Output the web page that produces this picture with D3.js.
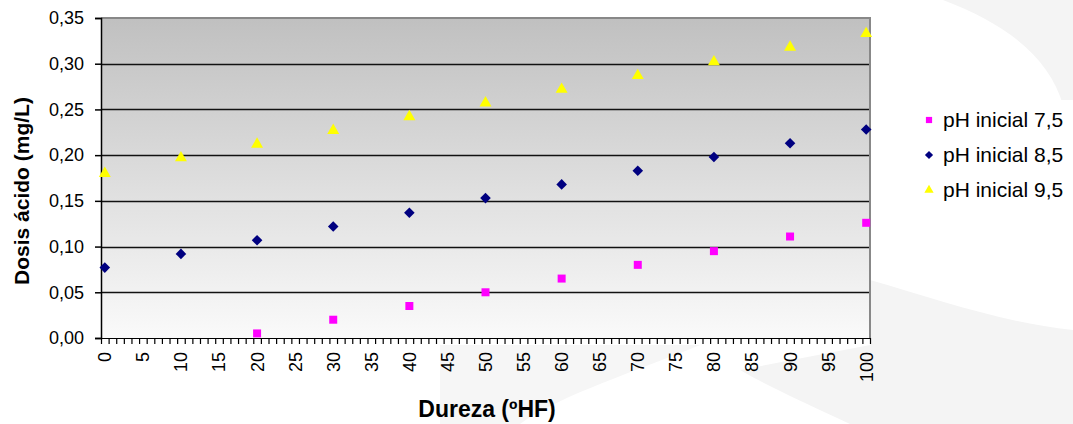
<!DOCTYPE html>
<html>
<head>
<meta charset="utf-8">
<script src="https://cdn.jsdelivr.net/npm/d3@7"></script>
<style>
	body { margin: 0; background: #fff; }
	svg { display: block; font-family: "Liberation Sans", Arial, sans-serif; }
</style>
</head>
<body>
<svg id="chart" width="1073" height="424"></svg>
<script>

// data
var dureza = [0, 10, 20, 30, 40, 50, 60, 70, 80, 90, 100];
var ph75 = [null, null, 0.005, 0.020, 0.035, 0.050, 0.065, 0.080, 0.095, 0.111, 0.126];
var ph85 = [0.077, 0.092, 0.107, 0.122, 0.137, 0.153, 0.168, 0.183, 0.198, 0.213, 0.228];
var ph95 = [0.180, 0.197, 0.212, 0.227, 0.242, 0.257, 0.272, 0.287, 0.302, 0.318, 0.333];
var seriesNames = ["pH inicial 7,5", "pH inicial 8,5", "pH inicial 9,5"];
var yTicks = [0, 0.05, 0.10, 0.15, 0.20, 0.25, 0.30, 0.35];
var xLabels = d3.range(0, 101, 5);

var series = [
	{ name: seriesNames[0], vals: ph75, color: "#ff00ff", shape: d3.symbolSquare, size: 64, rot: 0 },
	{ name: seriesNames[1], vals: ph85, color: "#000080", shape: d3.symbolSquare, size: 56, rot: 45 },		// diamond
	{ name: seriesNames[2], vals: ph95, color: "#ffff00", shape: d3.symbolTriangle, size: 62, rot: 0 },
];

var svg = d3.select("#chart");
var [ mT, mR, mB, mL ] = [ 18, 870, 338, 101 ];		// plot box: top, right edge, bottom, left edge

// faint background watermark
var bg = svg.append("g").attr("fill", "#f4f4f4");
bg.append("path").attr("d", "M943,0 C1010,25 1050,60 1063,105 L1073,105 L1073,0 Z");
bg.append("path").attr("d", "M870,280 C940,300 1000,322 1073,330 L1073,424 L850,424 C810,405 775,390 740,370 L870,345 Z");
bg.append("path").attr("d", "M440,345 L700,345 C640,370 560,395 520,424 L440,424 Z").attr("fill", "#f6f6f6");

var x = d3.scaleLinear([-0.5, 100.5], [ mL, mR ]);
var y = d3.scaleLinear([0, 0.35], [ mB, mT ]);

var defs = svg.append("defs");
var grad = defs.append("linearGradient").attr("id", "plotbg")
	.attr("x1", 0).attr("y1", 0).attr("x2", 0).attr("y2", 1);
grad.append("stop").attr("offset", "0%").attr("stop-color", "#c0c0c0");
grad.append("stop").attr("offset", "100%").attr("stop-color", "#fafafa");

svg.append("rect")
	.attr("x", mL).attr("y", mT)
	.attr("width", mR - mL).attr("height", mB - mT)
	.attr("fill", "url(#plotbg)");

// gridlines
svg.append("g")
	.selectAll("line")
	.data(yTicks.filter(d => d > 0 && d < 0.35))
	.join("line")
	.attr("x1", mL).attr("x2", mR)
	.attr("y1", d => Math.round(y(d)) + 0.5).attr("y2", d => Math.round(y(d)) + 0.5)
	.attr("stroke", "#111").attr("stroke-width", 1.5);

// top / right border
svg.append("path")
	.attr("d", `M${mL},${mT} H${mR} V${mB}`)
	.attr("fill", "none").attr("stroke", "#888").attr("stroke-width", 2);

// y axis
var yAxis = svg.append("g")
	.attr("transform", `translate(${mL}, 0)`)
	.call(d3.axisLeft(y).tickValues(yTicks).tickSize(6).tickPadding(11)
		.tickFormat(d => d3.format(".2f")(d).replace(".", ",")));
yAxis.selectAll("text").attr("font-size", 18).attr("fill", "#000");
yAxis.selectAll("path, line").attr("stroke", "#000").attr("stroke-width", 1.5);

// x axis: ticks between categories
var xAxis = svg.append("g")
	.attr("transform", `translate(0, ${mB})`)
	.call(d3.axisBottom(x).tickValues(d3.range(-0.5, 101, 1)).tickSize(6).tickSizeOuter(0).tickFormat(""));
xAxis.selectAll("path, line").attr("stroke", "#000").attr("stroke-width", 1.2);

svg.append("g")
	.selectAll("text")
	.data(xLabels)
	.join("text")
	.attr("transform", d => `translate(${x(d)}, 352) rotate(-90)`)
	.attr("text-anchor", "end")
	.attr("dy", "0.36em")
	.attr("font-size", 18)
	.text(d => d);

// points
series.forEach(s => {
	svg.append("g")
		.selectAll("path")
		.data(dureza.map((d, i) => ({ d: d, v: s.vals[i] })).filter(p => p.v !== null))
		.join("path")
		.attr("transform", p => `translate(${x(p.d)}, ${y(p.v)}) rotate(${s.rot})`)
		.attr("d", d3.symbol(s.shape, s.size))
		.attr("fill", s.color);
});

// axis titles
svg.append("text")
	.attr("transform", `translate(29, 191) rotate(-90)`)
	.attr("text-anchor", "middle")
	.attr("font-size", 21).attr("font-weight", "bold")
	.text("Dosis ácido (mg/L)");

svg.append("text")
	.attr("x", 487).attr("y", 417)
	.attr("text-anchor", "middle")
	.attr("font-size", 23).attr("font-weight", "bold")
	.text("Dureza (ºHF)");

// legend
var leg = svg.append("g");
leg.append("rect").attr("x", 915).attr("y", 100).attr("width", 158).attr("height", 107).attr("fill", "#fff");
series.forEach((s, i) => {
	var ly = 120 + i * 35;
	leg.append("path")
		.attr("transform", `translate(929, ${ly}) rotate(${s.rot})`)
		.attr("d", d3.symbol(s.shape, s.size * 0.6))
		.attr("fill", s.color);
	leg.append("text")
		.attr("x", 943).attr("y", ly).attr("dy", "0.35em")
		.attr("font-size", 21)
		.text(s.name);
});

</script>
</body>
</html>
